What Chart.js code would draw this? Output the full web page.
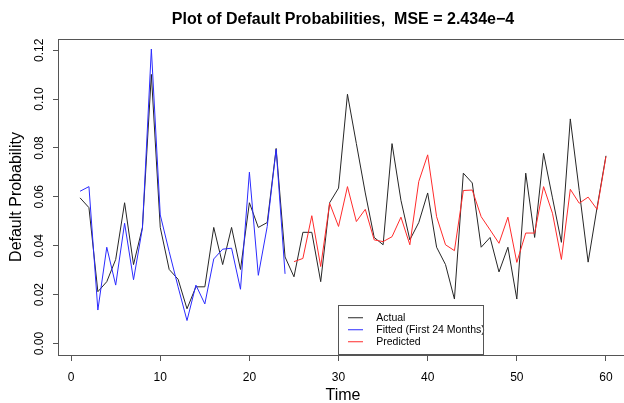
<!DOCTYPE html>
<html>
<head>
<meta charset="utf-8">
<script src="https://cdn.jsdelivr.net/npm/chart.js@4"></script>
<style>
html,body{margin:0;padding:0;background:#fff;overflow:hidden;width:624px;height:403px}
#wrap{width:632px;height:403px}
canvas{display:block}
</style>
</head>
<body>
<div id="wrap"><canvas id="c" width="632" height="403"></canvas></div>
<script>
// ---------- data ----------
const months = [1,2,3,4,5,6,7,8,9,10,11,12,13,14,15,16,17,18,19,20,
  21,22,23,24,25,26,27,28,29,30,31,32,33,34,35,36,37,38,39,40,
  41,42,43,44,45,46,47,48,49,50,51,52,53,54,55,56,57,58,59,60];
const actual = [0.0596,0.0556,0.0212,0.0253,0.0344,0.0576,0.0323,0.0475,0.1101,0.0475,
  0.0303,0.0263,0.0142,0.0232,0.0232,0.0475,0.0323,0.0475,0.0303,0.0576,
  0.0475,0.0495,0.0798,0.0354,0.0273,0.0455,0.0455,0.0253,0.0576,0.0636,
  0.1020,0.0818,0.0616,0.0434,0.0404,0.0818,0.0586,0.0424,0.0495,0.0616,
  0.0394,0.0323,0.0182,0.0697,0.0657,0.0394,0.0434,0.0293,0.0394,0.0182,
  0.0697,0.0434,0.0778,0.0596,0.0414,0.0919,0.0626,0.0333,0.0556,0.0768];
// fitted: months 1-24
const fitted = [0.0623,0.0642,0.0137,0.0394,0.0239,0.0492,0.0261,0.0472,0.1205,0.0526,
  0.0376,0.0232,0.0094,0.0239,0.0162,0.0346,0.0386,0.0390,0.0222,0.0701,
  0.0279,0.0479,0.0795,0.0285];
// predicted: months 25-60
const predicted = [0.0335,0.0348,0.0523,0.0315,0.0574,0.0479,0.0642,0.0499,0.0549,0.0424,
  0.0417,0.0437,0.0517,0.0404,0.0663,0.0772,0.0519,0.0404,0.0380,0.0626,
  0.0628,0.0519,0.0465,0.0410,0.0517,0.0332,0.0452,0.0452,0.0642,0.0533,
  0.0344,0.0631,0.0574,0.0599,0.0549,0.0765];
const fittedMonths = months.slice(0, 24);
const predictedMonths = months.slice(24);
const xTicks = [0,10,20,30,40,50,60];
const xTickLabels = ['0','10','20','30','40','50','60'];
const yTicks = [0,0.02,0.04,0.06,0.08,0.10,0.12];
const yTickLabels = ['0.00','0.02','0.04','0.06','0.08','0.10','0.12'];
const seriesLabels = ['Actual','Fitted (First 24 Months)','Predicted'];
const titleText = 'Plot of Default Probabilities,  MSE = 2.434e\u22124';

// ---------- styling / layout ----------
const FONT = '"Liberation Sans", Arial, Helvetica, sans-serif';
Chart.defaults.font.family = FONT;
Chart.defaults.color = '#000';
const COLORS = ['#262626', '#2b2bff', '#ff2b2b'];
const FRAME = '#555';
const AREA = {left: 59, top: 39, bottom: 355};
const LEG = {left: 346.5, top: 311, width: 145, height: 60, frame: [338.5, 305.5, 145, 49]};
const SW_W = 23, SW_LINE = 15;

function swatch(color) {
  const c = document.createElement('canvas');
  c.width = SW_W; c.height = 3;
  const g = c.getContext('2d');
  g.strokeStyle = color; g.lineWidth = 1;
  g.beginPath(); g.moveTo(0, 1.5); g.lineTo(SW_LINE, 1.5); g.stroke();
  return c;
}
const toPts = (xs, ys) => ys.map((v, i) => ({x: xs[i], y: v}));

const framePlugin = {
  id: 'frame',
  afterLayout(chart) {
    const a = chart.chartArea;
    const t = chart.titleBlock;
    if (t) { t.left = a.left; t.right = a.right; }
    const lg = chart.legend;
    if (lg) {
      lg.left = LEG.left; lg.top = LEG.top;
      lg.width = LEG.width; lg.height = LEG.height;
      lg.right = LEG.left + LEG.width; lg.bottom = LEG.top + LEG.height;
    }
  },
  afterDraw(chart) {
    const {ctx, chartArea: a} = chart;
    ctx.save();
    ctx.strokeStyle = FRAME; ctx.lineWidth = 1;
    ctx.strokeRect(Math.round(a.left) - 0.5, Math.round(a.top) + 0.5,
      a.right - a.left, Math.round(a.bottom) - Math.round(a.top));
    const f = LEG.frame;
    ctx.strokeRect(f[0], f[1], f[2], f[3]);
    ctx.restore();
  }
};

new Chart(document.getElementById('c'), {
  type: 'line',
  data: {
    datasets: [
      {label: seriesLabels[0], data: toPts(months, actual), borderColor: COLORS[0], pointStyle: swatch(COLORS[0]), order: 3},
      {label: seriesLabels[1], data: toPts(fittedMonths, fitted), borderColor: COLORS[1], pointStyle: swatch(COLORS[1]), order: 2},
      {label: seriesLabels[2], data: toPts(predictedMonths, predicted), borderColor: COLORS[2], pointStyle: swatch(COLORS[2]), order: 1}
    ]
  },
  options: {
    responsive: false,
    animation: false,
    devicePixelRatio: 1,
    events: [],
    elements: {
      line: {borderWidth: 1, tension: 0, fill: false},
      point: {radius: 0, hoverRadius: 0}
    },
    layout: {padding: {left: 0, right: 5, top: 0, bottom: 0}},
    scales: {
      x: {
        type: 'linear', min: -1.36, max: 62.36,
        afterBuildTicks: s => { s.ticks = xTicks.map(v => ({value: v})); },
        ticks: {
          callback: (v, i) => xTickLabels[i],
          font: {size: 12}, padding: 9.5, maxRotation: 0, minRotation: 0, autoSkip: false
        },
        grid: {drawOnChartArea: false, drawTicks: true, tickLength: 6, tickColor: FRAME},
        border: {display: false},
        title: {display: true, text: 'Time', font: {size: 16, lineHeight: 0.9}, padding: 0},
        afterFit: s => { s.height = 403 - AREA.bottom; }
      },
      y: {
        type: 'linear', min: -0.0047, max: 0.1246,
        afterBuildTicks: s => { s.ticks = yTicks.map(v => ({value: v})); },
        ticks: {
          callback: (v, i) => yTickLabels[i],
          font: {size: 12}, padding: 1.3, minRotation: 90, maxRotation: 90,
          crossAlign: 'center', autoSkip: false
        },
        grid: {drawOnChartArea: false, drawTicks: true, tickLength: 6, tickColor: FRAME},
        border: {display: false},
        title: {display: true, text: 'Default Probability', font: {size: 16}, padding: {top: 7.4, bottom: 0}},
        afterFit: s => { s.width = AREA.left; }
      }
    },
    plugins: {
      title: {
        display: true, text: titleText, color: '#000',
        font: {size: 16, weight: 'bold'}, padding: {top: 10, bottom: 9.8}
      },
      legend: {
        display: true, position: 'chartArea', align: 'start',
        labels: {
          usePointStyle: true, pointStyleWidth: SW_W, color: '#000',
          font: {size: 10.5}, padding: 1.5,
          sort: (a, b) => a.datasetIndex - b.datasetIndex
        }
      },
      tooltip: {enabled: false}
    }
  },
  plugins: [framePlugin]
});
</script>
</body>
</html>
